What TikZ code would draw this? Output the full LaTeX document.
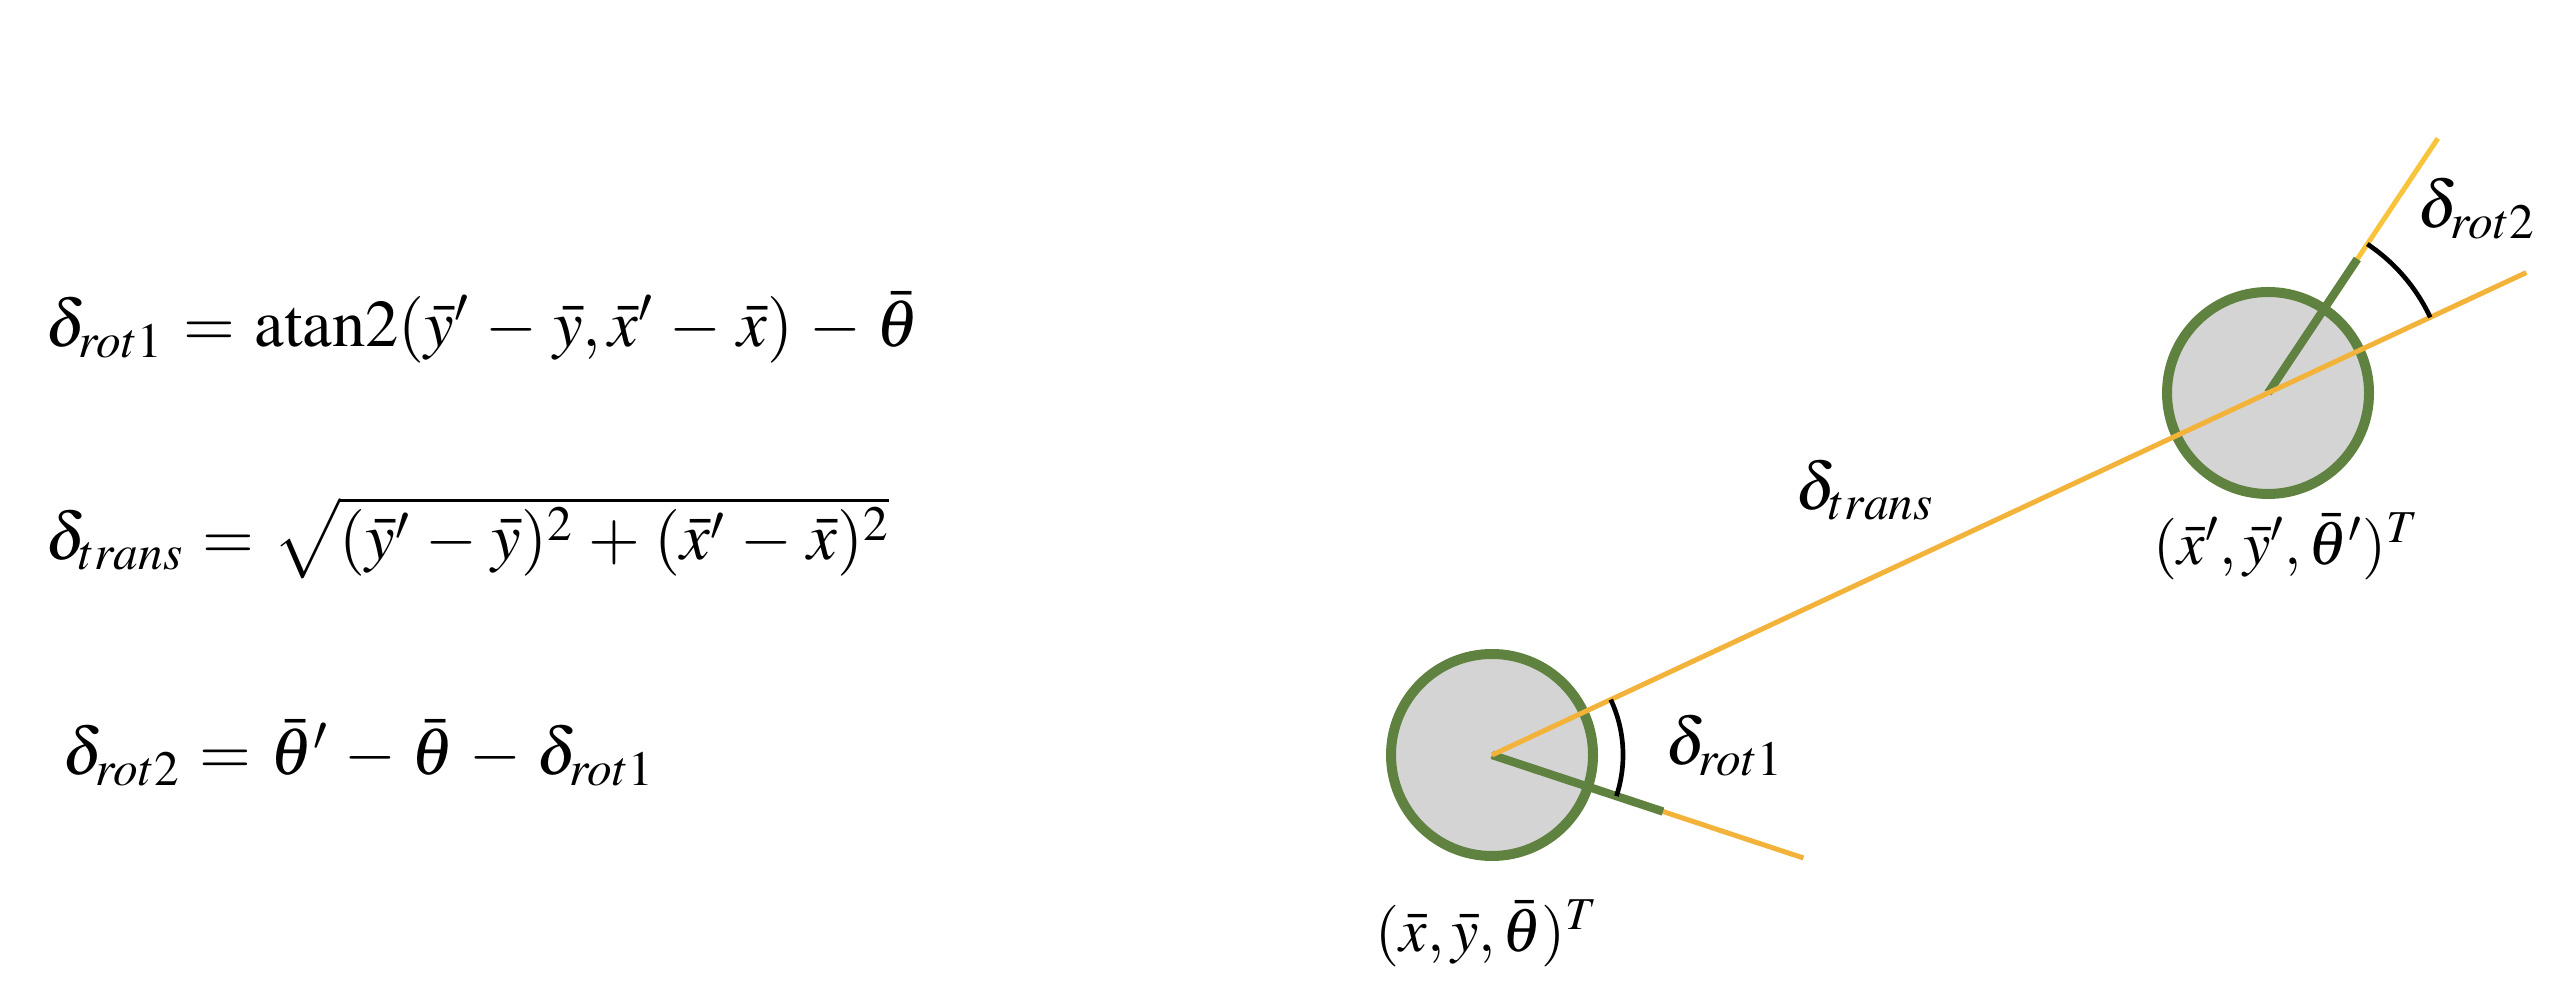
\documentclass[tikz,border=0pt]{standalone}
\usepackage{mathptmx}
\definecolor{grn}{RGB}{96,130,64}
\definecolor{gfill}{RGB}{212,212,212}
\definecolor{org}{RGB}{243,179,58}
\definecolor{ylw}{RGB}{247,196,60}
\newcommand{\spaceA}{\medmuskip=4.3mu\relax\thickmuskip=5.3mu\relax}
\newcommand{\spaceB}{\medmuskip=4mu\relax\thickmuskip=5mu\relax}
\newcommand{\spaceC}{\medmuskip=4.2mu\relax\thickmuskip=5.2mu\relax}
\begin{document}
\begin{tikzpicture}[x=0.3pt,y=0.3pt,
  robot/.style={circle,draw=grn,fill=gfill,line width=3pt,minimum size=60.6pt,inner sep=0pt},
  pathline/.style={draw=org,line width=1.5pt},
  heading/.style={draw=grn,line width=2.5pt},
  anglearc/.style={draw=black,line width=1.4pt},
  lbl/.style={inner sep=0pt,anchor=base west,font=\fontsize{20}{24}\selectfont},
  pose/.style={lbl,font=\fontsize{18.5}{22}\selectfont}]
\useasboundingbox (0,0) rectangle (2564,1000);
\node[robot] (c1) at (1492,245) {};
\node[robot] (c2) at (2268,607) {};
\coordinate (h1end) at ([shift={(-18.3:328)}]c1.center);
\coordinate (g1end) at ([shift={(-18.3:180)}]c1.center);
\coordinate (p2end) at ([shift={(25:285)}]c2.center);
\coordinate (y2end) at ([shift={(56.3:306)}]c2.center);
\coordinate (g2end) at ([shift={(56.3:161)}]c2.center);
\coordinate (a1s) at ([shift={(-18.3:131)}]c1.center);
\coordinate (a2s) at ([shift={(25:179)}]c2.center);
\draw[pathline] (c1.center) -- (h1end);
\draw[pathline,draw=ylw] (c2.center) -- (y2end);
\draw[heading] (c1.center) -- (g1end);
\draw[heading] (c2.center) -- (g2end);
\draw[pathline] (c1.center) -- (c2.center) -- (p2end);
\draw[anglearc] (a1s) arc[start angle=-18.3,end angle=25,radius=131];
\draw[anglearc] (a2s) arc[start angle=25,end angle=56.3,radius=179];
\node[lbl] (f1) at (45,653) {\spaceA$\delta_{rot1} = \mathrm{atan2}(\bar{y}' - \bar{y}, \bar{x}' - \bar{x}) - \bar{\theta}$};
\node[lbl] (f2) at (45,440) {\spaceB$\delta_{trans} = \sqrt{(\bar{y}' - \bar{y})^2 + (\bar{x}' - \bar{x})^2}$};
\node[lbl] (f3) at (62,225) {\spaceC$\delta_{rot2} = \bar{\theta}' - \bar{\theta} - \delta_{rot1}$};
\node[pose] (lab1) at (1375,48) {$(\bar{x}, \bar{y}, \bar{\theta})^T$};
\node[pose] (lab2) at (2153,435) {$(\bar{x}', \bar{y}', \bar{\theta}')^T$};
\node[lbl] (ltrans) at (1795,490) {$\delta_{trans}$};
\node[lbl] (lrot1) at (1665,235) {$\delta_{rot1}$};
\node[lbl] (lrot2) at (2417,772) {$\delta_{rot2}$};
\end{tikzpicture}
\end{document}
